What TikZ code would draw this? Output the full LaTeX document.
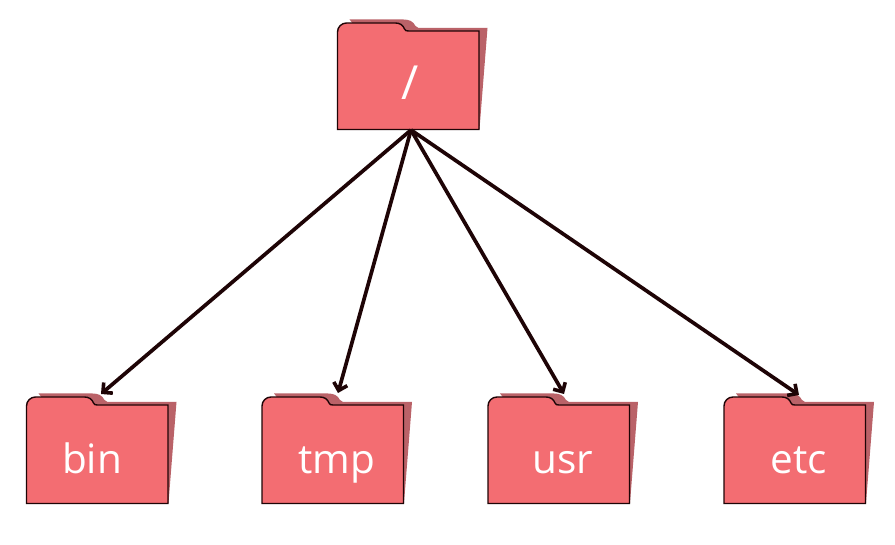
\documentclass[tikz,border=0pt]{standalone}
\usepackage{fontspec}
\setmainfont{Open Sans}
\usetikzlibrary{arrows.meta}
\definecolor{folderfill}{HTML}{F36D72}
\definecolor{foldershade}{HTML}{BA6268}
\definecolor{linkdark}{HTML}{1E0406}
\tikzset{
  folderback/.style = {fill=foldershade, draw=none},
  folderbody/.style = {fill=folderfill, draw=linkdark, line width=1.4pt},
  foldertext/.style = {text=white, font=\fontsize{40.5}{41}\selectfont, inner sep=0pt, anchor=base},
  link/.style       = {draw=linkdark, line width=3.7pt, -{Straight Barb[length=7pt,width=14pt,line width=3.6pt]}}
}
% name, left edge, top of body, label x, label
\newcommand{\folder}[5]{
  \fill[folderback]
    (#2+12,#3-11.5) -- (#2+66,#3-11.5)
    to[out=0,in=115] (#2+78,#3-5) -- (#2+81,#3-3) -- (#2+150,#3-3) -- (#2+142,#3+98) -- (#2+100,#3+98) -- cycle;
  \draw[folderbody]
    (#2,#3+98.5) -- (#2,#3+1)
    to[out=90,in=180] (#2+9,#3-8) -- (#2+58,#3-8)
    to[out=0,in=110] (#2+67,#3-2)
    to[out=-70,in=180] (#2+71,#3+0) -- (#2+141.5,#3+0) -- (#2+141.5,#3+98.5) -- cycle;
  \coordinate (#1) at (#2+71,#3+45);
  \node[foldertext] (#1-label) at (#4,#3+68.5) {#5};
}
\begin{document}
\begin{tikzpicture}[x=1pt,y=-1pt]
  \useasboundingbox (0,0) rectangle (895,545);
  \folder{root}{337.5}{31}{410}{\fontsize{47}{47}\selectfont /}
  \foreach \name/\x/\lx/\lab in {bin/26.5/92/bin, tmp/262/336.5/tmp, usr/488/563/usr, etc/724/799/etc} {
    \folder{\name}{\x}{405}{\lx}{\lab}
  }
  \coordinate (rootout) at (411,130);
  \coordinate (binin) at (101,394);
  \coordinate (tmpin) at (338,393);
  \coordinate (usrin) at (564,394);
  \coordinate (etcin) at (799,395);
  \foreach \name in {bin,tmp,usr,etc} {
    \draw[link] (rootout) -- (\name in);
  }
\end{tikzpicture}
\end{document}
